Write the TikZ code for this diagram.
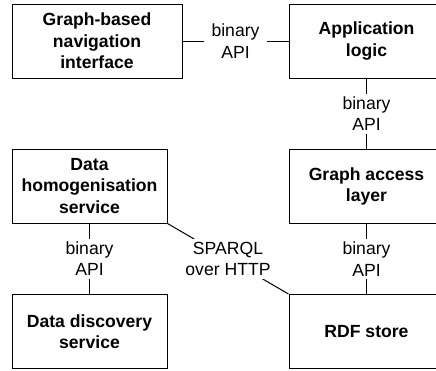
\documentclass[tikz,border=0pt]{standalone}
\usepackage{fontspec}
\setmainfont{Liberation Sans}
\tikzset{
	block/.style={draw, align=center, font=\bfseries\fontsize{17.6}{21.5}\selectfont,
		minimum width=155pt, minimum height=74pt, inner sep=0pt},
	link/.style={fill=white, align=center, font=\fontsize{17.6}{21.5}\selectfont,
		inner xsep=8pt, inner ysep=3pt}
}
\begin{document}
\begin{tikzpicture}[x=1pt,y=-1pt,line width=1pt]
	\clip (0,0) rectangle (436,370);
	% boxes
	\node[block, minimum width=170pt] (nav) at (97,41) {Graph-based\\navigation\\interface};
	\node[block] (app) at (366.5,41) {Application\\logic};
	\node[block] (access) at (366.5,186.5) {Graph access\\layer};
	\node[block] (homog) at (89.5,186) {Data\\homogenisation\\service};
	\node[block] (discov) at (89.5,331.5) {Data discovery\\service};
	\node[block] (rdf) at (366.5,331.5) {RDF store};
	% links
	\draw (nav) -- node[link] (navapi) {binary\\API} (app);
	\draw (app) -- node[link] (appapi) {binary\\API} (access);
	\draw (access) -- node[link] (accessapi) {binary\\API} (rdf);
	\draw (homog) -- node[link] (homogapi) {binary\\API} (discov);
	\draw (homog.south east) -- node[link] (sparql) {SPARQL\\over HTTP} (rdf.north west);
\end{tikzpicture}
\end{document}
